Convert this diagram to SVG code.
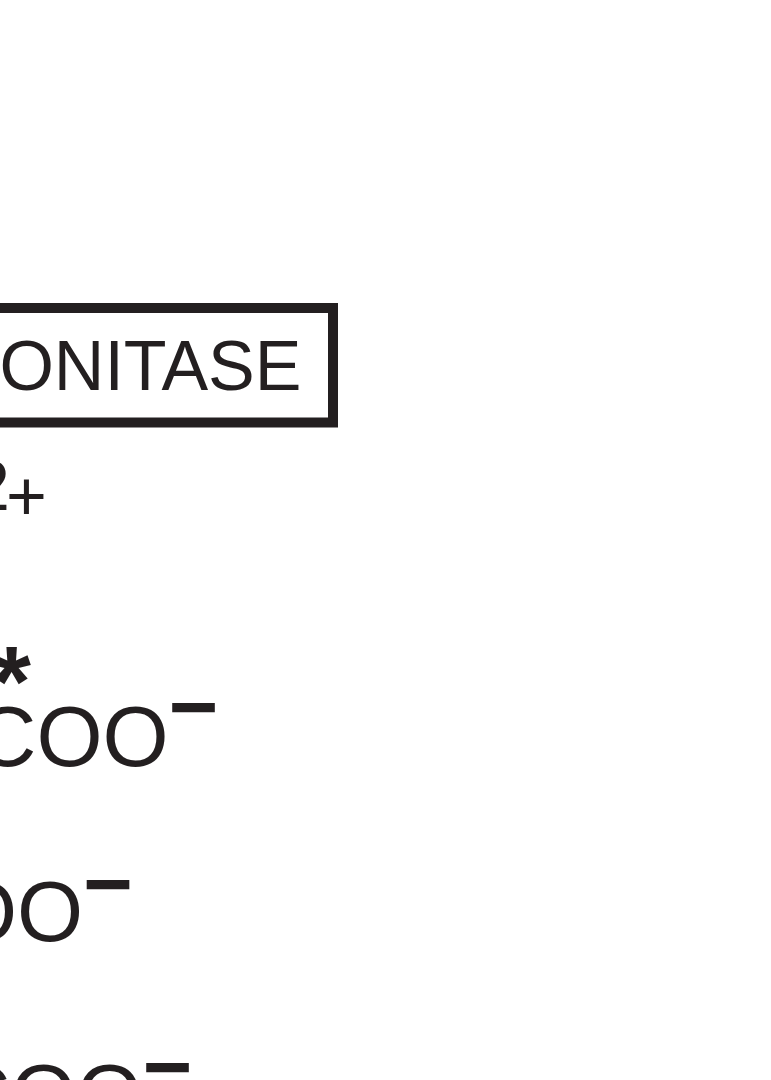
<svg xmlns="http://www.w3.org/2000/svg" width="771" height="1080" viewBox="0 0 771 1080">
<style>
.t{font-family:"Liberation Sans",Arial,sans-serif;fill:#231f20}
.box{fill:none;stroke:#231f20;stroke-width:10}
</style>
<rect x="0" y="0" width="771" height="1080" fill="#fff"/>
<g id="enzyme">
<rect class="box" x="-400" y="308" width="733" height="114.5"/>
<text class="t" x="301.5" y="390" font-size="70" text-anchor="end">ONITASE</text>
</g>
<g id="cofactor">
<text class="t" x="-29" y="510" font-size="70">2<tspan dx="-4" dy="10">+</tspan></text>
</g>
<g id="label-star">
<text class="t" x="-8" y="716" font-size="100" font-weight="bold">*</text>
</g>
<g id="row1">
<text class="t" x="-25" y="766" font-size="85">COO<tspan font-weight="bold" dy="-30">−</tspan></text>
</g>
<g id="row2">
<text class="t" x="-49" y="941" font-size="85">OO<tspan font-weight="bold" dy="-28">−</tspan></text>
</g>
<g id="row3">
<text class="t" x="-51" y="1124" font-size="85">COO<tspan font-weight="bold" dy="-28">−</tspan></text>
</g>
<g id="connectors"></g>
</svg>
